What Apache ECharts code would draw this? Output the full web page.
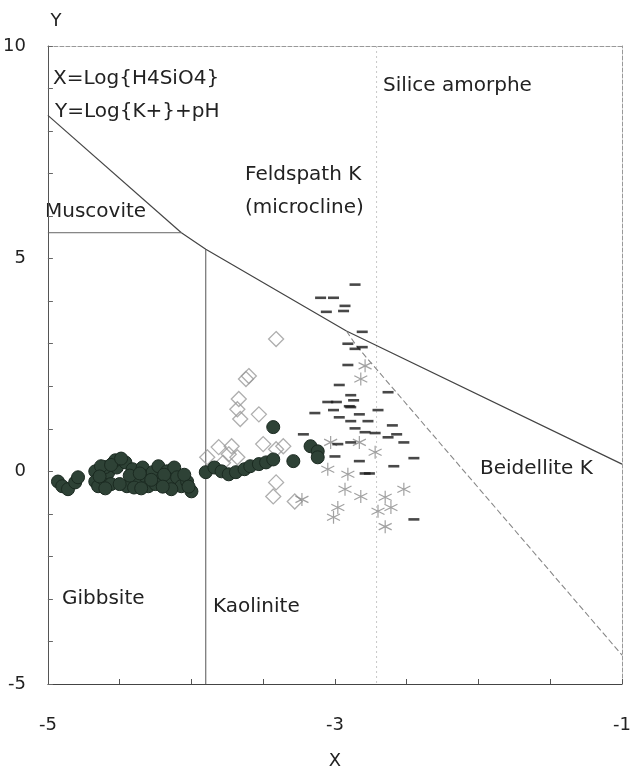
<!DOCTYPE html>
<html>
<head>
<meta charset="utf-8">
<script src="https://cdn.jsdelivr.net/npm/echarts@6/dist/echarts.min.js"></script>
<style>
  html, body { margin: 0; padding: 0; background: #fff; }
  #chart { width: 641px; height: 775px; }
</style>
</head>
<body>
<div id="chart"></div>
<script>
// Stability diagram K2O-Al2O3-SiO2-H2O: X = log{H4SiO4}, Y = log{K+} + pH

// Mineral stability boundaries, [x, y]
var muscoviteUpper = [[-5, 8.37], [-4.07, 5.61]];
var muscoviteLower = [[-5, 5.61], [-4.07, 5.61]];
var feldsparBoundary = [[-4.07, 5.61], [-3.9, 5.22], [-2.92, 3.30], [-1, 0.17]];
var beidelliteBoundary = [[-2.92, 3.30], [-2.85, 2.95], [-1, -4.32]];
var kaoliniteBoundary = [[-3.9, 5.22], [-3.9, -5]];
var silicaLine = [[-2.71, 10], [-2.71, -5]];

// Waters, group 1 (filled circles)
var filledCircles = [
  [-4.93, -0.24], [-4.90, -0.35], [-4.86, -0.42], [-4.81, -0.26], [-4.79, -0.14],
  [-4.67, 0.00], [-4.67, -0.24], [-4.65, -0.35], [-4.61, -0.19], [-4.58, -0.03],
  [-4.54, 0.21], [-4.52, 0.09], [-4.46, 0.21], [-4.45, -0.35], [-4.41, 0.05],
  [-4.38, -0.26], [-4.34, 0.09], [-4.32, -0.12], [-4.30, -0.35], [-4.27, -0.02],
  [-4.23, 0.12], [-4.21, -0.19], [-4.17, 0.00], [-4.15, -0.26], [-4.12, 0.09],
  [-4.10, -0.14], [-4.07, -0.35], [-4.03, -0.24], [-4.00, -0.47], [-4.53, 0.26],
  [-4.56, -0.30], [-4.40, -0.38], [-4.25, -0.30], [-4.60, 0.10],
  [-4.63, 0.12], [-4.56, 0.15], [-4.49, 0.30], [-4.43, -0.10], [-4.36, -0.05],
  [-4.28, -0.20], [-4.19, -0.08], [-4.14, -0.42], [-4.05, -0.08], [-4.02, -0.36],
  [-4.64, -0.12], [-4.60, -0.40], [-4.50, -0.30], [-4.35, -0.40], [-4.20, -0.36],
  [-3.90, -0.02], [-3.84, 0.09], [-3.79, 0.00], [-3.74, -0.07], [-3.69, -0.02],
  [-3.63, 0.05], [-3.59, 0.12], [-3.53, 0.17], [-3.48, 0.21], [-3.43, 0.28],
  [-3.43, 1.04], [-3.29, 0.24], [-3.17, 0.59], [-3.12, 0.47], [-3.12, 0.33]
];

// Waters, group 2 (open diamonds)
var openDiamonds = [
  [-3.41, 3.11], [-3.60, 2.24], [-3.62, 2.17], [-3.67, 1.70], [-3.68, 1.46],
  [-3.66, 1.23], [-3.53, 1.34], [-3.89, 0.33], [-3.81, 0.57], [-3.72, 0.59],
  [-3.74, 0.40], [-3.68, 0.33], [-3.50, 0.64], [-3.41, 0.52], [-3.36, 0.59],
  [-3.43, -0.59], [-3.28, -0.71], [-3.41, -0.26], [-3.78, 0.20]
];

// Waters, group 3 (dashes)
var dashes = [
  [-2.86, 4.39], [-3.10, 4.08], [-3.01, 4.08], [-2.93, 3.89], [-2.94, 3.77],
  [-3.06, 3.75], [-2.81, 3.28], [-2.91, 3.00], [-2.86, 2.88], [-2.81, 2.92],
  [-2.91, 2.50], [-2.97, 2.03], [-2.63, 1.86], [-2.89, 1.79], [-2.87, 1.67],
  [-3.05, 1.63], [-2.99, 1.63], [-2.90, 1.53], [-3.14, 1.37], [-3.01, 1.44],
  [-2.89, 1.51], [-2.83, 1.34], [-2.70, 1.44], [-2.97, 1.27], [-2.89, 1.18],
  [-2.77, 1.18], [-2.86, 1.01], [-2.79, 0.92], [-2.72, 0.90], [-2.60, 1.08],
  [-3.22, 0.87], [-2.63, 0.80], [-2.57, 0.87], [-2.52, 0.68], [-2.98, 0.64],
  [-2.89, 0.68], [-3.00, 0.35], [-2.83, 0.24], [-2.59, 0.12], [-2.45, 0.31],
  [-2.79, -0.05], [-2.76, -0.05], [-2.45, -1.13]
];

// Waters, group 4 (asterisks)
var asterisks = [
  [-2.79, 2.48], [-2.82, 2.17], [-3.03, 0.68], [-2.83, 0.68], [-3.05, 0.05],
  [-2.91, -0.07], [-2.93, -0.42], [-2.82, -0.59], [-2.65, -0.61], [-2.52, -0.42],
  [-2.98, -0.85], [-2.70, -0.94], [-2.61, -0.85], [-3.01, -1.08], [-2.65, -1.30],
  [-2.72, 0.45], [-3.23, -0.66]
];

var xTickLabels = [-5, -3, -1];
var yTickLabels = [-5, 0, 5, 10];

var FONT = '"DejaVu Sans", sans-serif';
var TXT = '#222';

function boundary(data, style) {
  return {
    type: 'line', data: data, symbol: 'none', silent: true, z: 3,
    lineStyle: style, animation: false
  };
}

var chart = echarts.init(document.getElementById('chart'), null, { renderer: 'canvas' });

var option = {
  backgroundColor: '#fff',
  animation: false,
  grid: { left: 42, right: 19, top: 46, bottom: 91 },
  xAxis: [{
    type: 'value', min: -5, max: -1, interval: 0.5,
    name: 'X', nameLocation: 'middle', nameGap: 68,
    nameTextStyle: { fontFamily: FONT, fontSize: 18, color: TXT },
    axisLine: { onZero: false, lineStyle: { color: '#444', width: 1 } },
    axisTick: { show: true, inside: true, length: 5, lineStyle: { color: '#555' } },
    splitLine: { show: false },
    axisLabel: {
      margin: 32, fontFamily: FONT, fontSize: 18, color: TXT,
      formatter: function (v) {
        for (var i = 0; i < xTickLabels.length; i++) {
          if (Math.abs(v - xTickLabels[i]) < 1e-9) return String(xTickLabels[i]);
        }
        return '';
      }
    }
  }, {
    type: 'value', min: -5, max: -1, position: 'top',
    axisLine: { show: true, onZero: false, lineStyle: { color: '#999', type: 'dashed', width: 1 } },
    axisTick: { show: false }, axisLabel: { show: false }, splitLine: { show: false }
  }],
  yAxis: [{
    type: 'value', min: -5, max: 10, interval: 1,
    name: 'Y', nameLocation: 'end', nameGap: 16,
    nameTextStyle: { fontFamily: FONT, fontSize: 18, color: TXT, padding: [0, 0, 0, 16] },
    axisLine: { show: true, onZero: false, lineStyle: { color: '#555', width: 1 } },
    axisTick: { show: true, inside: true, length: 5, lineStyle: { color: '#666' } },
    splitLine: { show: false },
    axisLabel: {
      margin: 22, fontFamily: FONT, fontSize: 18, color: TXT,
      formatter: function (v) {
        return yTickLabels.indexOf(v) >= 0 ? String(v) : '';
      }
    }
  }, {
    type: 'value', min: -5, max: 10, position: 'right',
    axisLine: { show: true, onZero: false, lineStyle: { color: '#999', type: 'dashed', width: 1 } },
    axisTick: { show: false }, axisLabel: { show: false }, splitLine: { show: false }
  }],
  series: [
    boundary(silicaLine, { color: '#c8c8c8', width: 1, type: [2, 3] }),
    boundary(muscoviteUpper, { color: '#444', width: 1.2 }),
    boundary(muscoviteLower, { color: '#666', width: 1 }),
    boundary(feldsparBoundary, { color: '#444', width: 1.2 }),
    boundary(kaoliniteBoundary, { color: '#555', width: 1 }),
    boundary(beidelliteBoundary, { color: '#888', width: 1.1, type: [6, 3] }),
    {
      type: 'scatter', data: openDiamonds, symbol: 'diamond', symbolSize: 15, z: 4,
      itemStyle: { color: 'rgba(255,255,255,0)', borderColor: '#9a9a9a', borderWidth: 1.3 }
    },
    {
      type: 'scatter', data: asterisks,
      symbol: 'path://M0,-10L0,10M-8.7,-5L8.7,5M-8.7,5L8.7,-5',
      symbolSize: 13, z: 4,
      itemStyle: { color: 'none', borderColor: '#8a8a8a', borderWidth: 1.2 }
    },
    {
      type: 'scatter', data: filledCircles, symbol: 'circle', symbolSize: 13, z: 5,
      itemStyle: { color: '#2e4236', borderColor: '#1b2a21', borderWidth: 1, opacity: 1 }
    },
    {
      type: 'scatter', data: dashes, symbol: 'rect', symbolSize: [11, 2.6], z: 6,
      itemStyle: { color: '#1a1a1a' }
    }
  ],
  graphic: [
    { type: 'text', left: 53, top: 69, style: { text: 'X=Log{H4SiO4}', font: '20px ' + FONT, fill: TXT } },
    { type: 'text', left: 55, top: 102, style: { text: 'Y=Log{K+}+pH', font: '20px ' + FONT, fill: TXT } },
    { type: 'text', left: 45, top: 202, style: { text: 'Muscovite', font: '20px ' + FONT, fill: TXT } },
    { type: 'text', left: 245, top: 165, style: { text: 'Feldspath K', font: '20px ' + FONT, fill: TXT } },
    { type: 'text', left: 245, top: 198, style: { text: '(microcline)', font: '20px ' + FONT, fill: TXT } },
    { type: 'text', left: 383, top: 76, style: { text: 'Silice amorphe', font: '20px ' + FONT, fill: TXT } },
    { type: 'text', left: 480, top: 459, style: { text: 'Beidellite K', font: '20px ' + FONT, fill: TXT } },
    { type: 'text', left: 62, top: 589, style: { text: 'Gibbsite', font: '20px ' + FONT, fill: TXT } },
    { type: 'text', left: 213, top: 597, style: { text: 'Kaolinite', font: '20px ' + FONT, fill: TXT } }
  ]
};

chart.setOption(option);
</script>
</body>
</html>
